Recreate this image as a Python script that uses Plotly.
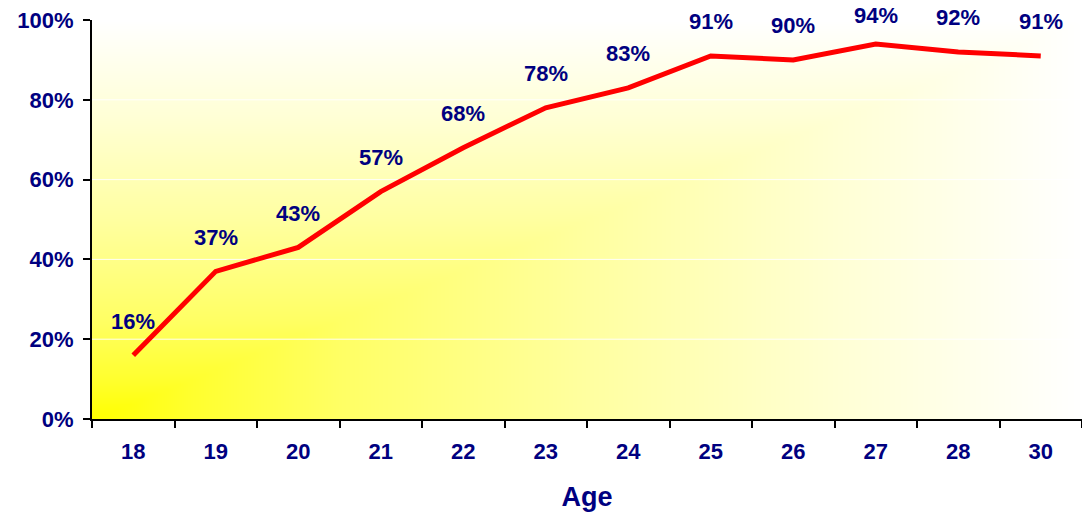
import numpy as np
import plotly.graph_objects as go

ages = ["18", "19", "20", "21", "22", "23", "24", "25", "26", "27", "28", "30"]
share = [16, 37, 43, 57, 68, 78, 83, 91, 90, 94, 92, 91]
y_ticks = [0, 20, 40, 60, 80, 100]
y_labels = [f"{v}%" for v in y_ticks]

NAVY = "#000080"
FONT = "Arial, Liberation Sans, sans-serif"

W, H = 1082, 515
M_L, M_R, M_T, M_B = 92, 0, 20, 96
PLOT_H = H - M_T - M_B

n = len(ages)
xpos = list(range(n))

# background gradient (yellow at bottom-left corner fading to white)
gx = np.linspace(-0.5, n - 0.5, 160)
gy = np.linspace(0, 100, 80)
U = (gx[None, :] + 0.5) / n
V = gy[:, None] / 100.0
T = np.maximum(U, V)

fig = go.Figure()
fig.add_trace(go.Heatmap(
    x=gx, y=gy, z=T, zmin=0, zmax=1, zsmooth="best", showscale=False,
    hoverinfo="skip",
    colorscale=[[0, "#FFFF00"], [0.1, "#FFFF2E"], [0.25, "#FFFF64"],
                [0.5, "#FFFFA0"], [0.75, "#FFFFD4"], [1, "#FFFFFF"]],
))
# white gridlines drawn above the gradient
for v in y_ticks[1:-1]:
    fig.add_trace(go.Scatter(x=[-0.5, n - 0.5], y=[v, v], mode="lines",
                             line=dict(color="rgba(255,255,255,0.9)", width=1),
                             hoverinfo="skip", showlegend=False))
fig.add_trace(go.Scatter(
    x=xpos, y=share, mode="lines",
    line=dict(color="#FF0000", width=5), showlegend=False,
))
for xi, v in zip(xpos, share):
    px_from_top = M_T + (100 - v) / 100 * PLOT_H
    shift = min(34, px_from_top - 15)
    fig.add_annotation(x=xi, y=v, text=f"{v}%", showarrow=False, yshift=shift,
                       font=dict(family=FONT, size=22, color=NAVY, weight="bold"))

fig.update_layout(
    width=W, height=H,
    margin=dict(l=M_L, r=M_R, t=M_T, b=M_B),
    paper_bgcolor="white", plot_bgcolor="white",
    showlegend=False,
    font=dict(family=FONT, color=NAVY),
    xaxis=dict(
        range=[-0.5, n - 0.5], tickvals=xpos, ticktext=ages,
        ticks="", showgrid=False, zeroline=False,
        showline=True, linecolor="black", linewidth=2,
        tickfont=dict(family=FONT, size=22, color=NAVY, weight="bold"),
        ticklabelstandoff=12,
        minor=dict(tickvals=[i - 0.5 for i in range(n + 1)], ticks="outside",
                   ticklen=7, tickwidth=2, tickcolor="black", showgrid=False),
        title=dict(text="Age", font=dict(family=FONT, size=27, color=NAVY, weight="bold"),
                   standoff=24),
    ),
    yaxis=dict(
        range=[0, 100], tickvals=y_ticks, ticktext=y_labels,
        ticks="outside", ticklen=7, tickwidth=2, tickcolor="black",
        showgrid=False, zeroline=False,
        showline=True, linecolor="black", linewidth=2,
        tickfont=dict(family=FONT, size=22, color=NAVY, weight="bold"),
        ticklabelstandoff=5,
    ),
)

fig.write_html("out.html", config={"displayModeBar": False},
               post_script="document.body.style.margin='0';")
